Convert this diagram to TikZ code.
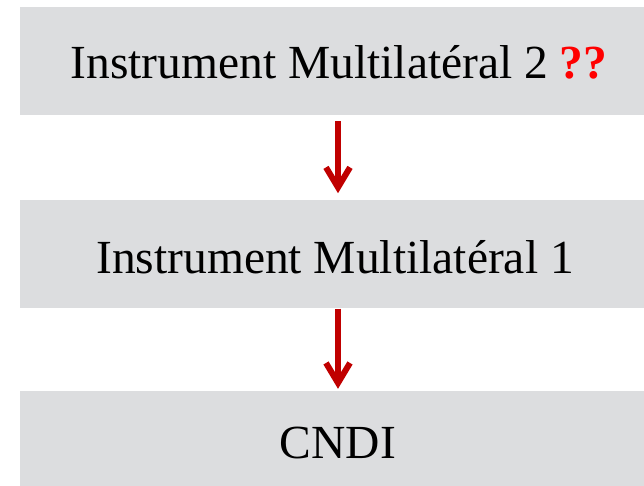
\documentclass[tikz,border=0pt]{standalone}
\usepackage{fontspec}
\setmainfont{Liberation Serif}
\usetikzlibrary{arrows.meta}
\definecolor{boxgray}{RGB}{220,221,223}
\definecolor{arrowred}{RGB}{192,0,0}
\definecolor{qred}{RGB}{255,0,0}
\tikzset{
  levelbox/.style={fill=boxgray, draw=none, rectangle, inner sep=0pt,
    minimum width=636pt, minimum height=108pt},
  leveltext/.style={anchor=base, inner sep=0pt, font=\fontsize{47.5}{56}\selectfont},
  downarrow/.style={draw=arrowred, line width=6pt,
    -{Straight Barb[length=20pt, width=24pt, line cap=butt]}}
}
\begin{document}
\begin{tikzpicture}[x=1pt, y=-1pt]
  \useasboundingbox (0,0) rectangle (644,486);
  \clip (0,0) rectangle (644,486);
  % the three stacked levels
  \node[levelbox] (top) at (338,61) {};
  \node[levelbox] (mid) at (338,254.4) {};
  \node[levelbox] (bot) at (338,445) {};
  % their labels
  \node[leveltext] (toplabel) at (339,79) {Instrument Multilatéral 2 \textcolor{qred}{\textbf{??}}};
  \node[leveltext] (midlabel) at (335,273) {Instrument Multilatéral 1};
  \node[leveltext] (botlabel) at (338,458) {CNDI};
  % links between levels
  \draw[downarrow, shorten <=6pt, shorten >=7pt] (top.south) -- (mid.north);
  \draw[downarrow, shorten >=2pt] (mid.south) -- (bot.north);
\end{tikzpicture}
\end{document}
